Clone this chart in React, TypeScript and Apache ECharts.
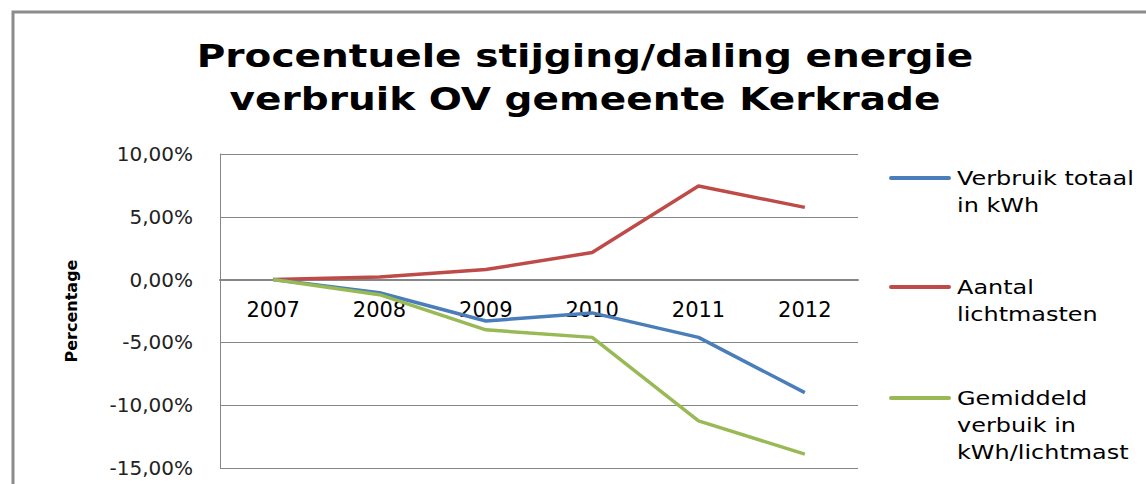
import React, { useEffect, useRef } from "react";
import * as echarts from "echarts";

const years = ["2007", "2008", "2009", "2010", "2011", "2012"];
const verbruikTotaal = [0, -1.05, -3.3, -2.65, -4.6, -9.0];
const aantalLichtmasten = [0, 0.2, 0.8, 2.15, 7.45, 5.75];
const gemiddeldVerbruik = [0, -1.2, -4.0, -4.6, -11.25, -13.9];
const seriesNames = ["Verbruik totaal\nin kWh", "Aantal\nlichtmasten", "Gemiddeld\nverbuik in\nkWh/lichtmast"];
const titleText = "Procentuele stijging/daling energie\nverbruik OV gemeente Kerkrade";
const colors = ["#4a7ebb", "#be4b48", "#98b954"];

export default function App() {
  const ref = useRef<HTMLDivElement>(null);
  useEffect(() => {
    if (!ref.current) return;
    const chart = echarts.init(ref.current, undefined, { renderer: "svg" });
    const font = "DejaVu Sans";
    const legendY = [178, 287, 398];
    const legendGraphics: any[] = [];
    seriesNames.forEach((n, i) => {
      legendGraphics.push({
        type: "line",
        shape: { x1: 891, y1: legendY[i], x2: 949, y2: legendY[i] },
        style: { stroke: colors[i], lineWidth: 4, lineCap: "round" },
      });
      legendGraphics.push({
        type: "text",
        x: 957,
        y: legendY[i] - 13.5,
        scaleX: 1.26,
        style: {
          text: n,
          fontFamily: font,
          fontSize: 19,
          lineHeight: 27,
          fill: "#000",
          verticalAlign: "top",
          align: "left",
        },
      });
    });
    chart.setOption({
      animation: false,
      backgroundColor: "#fff",
      graphic: [
        {
          type: "rect",
          shape: { x: 13, y: 12, width: 1200, height: 600 },
          style: { fill: "none", stroke: "#8c8c8c", lineWidth: 3 },
          silent: true,
        },
        {
          type: "text",
          x: 585,
          y: 34,
          scaleX: 1.22,
          style: {
            text: titleText,
            fontFamily: font,
            fontWeight: "bold",
            fontSize: 32,
            lineHeight: 43,
            fill: "#000",
            align: "center",
            verticalAlign: "top",
          },
        },
        ...legendGraphics,
      ],
      grid: { left: 220, top: 154, width: 638, height: 314, containLabel: false, outerBoundsMode: "none" },
      xAxis: {
        type: "category",
        data: years,
        boundaryGap: true,
        axisLine: { onZero: true, lineStyle: { color: "#868686", width: 2 } },
        axisTick: { show: false },
        axisLabel: { fontFamily: font, fontSize: 21, color: "#000", margin: -169 },
      },
      yAxis: {
        type: "value",
        min: -15,
        max: 10,
        interval: 5,
        name: "Percentage",
        nameLocation: "middle",
        nameGap: 141,
        nameRotate: 90,
        nameTextStyle: { fontFamily: font, fontWeight: "bold", fontSize: 16, color: "#000" },
        axisLine: { show: true, lineStyle: { color: "#868686", width: 1 } },
        axisTick: { show: false },
        axisLabel: {
          fontFamily: font,
          fontSize: 20,
          color: "#222",
          margin: 27,
          formatter: (v: number) => v.toFixed(2).replace(".", ",") + "%",
        },
        splitLine: { show: true, lineStyle: { color: "#868686", width: 1 } },
      },
      series: [
        { name: seriesNames[0], type: "line", data: verbruikTotaal, showSymbol: false, lineStyle: { color: colors[0], width: 3.5 }, itemStyle: { color: colors[0] }, z: 3 },
        { name: seriesNames[1], type: "line", data: aantalLichtmasten, showSymbol: false, lineStyle: { color: colors[1], width: 3.5 }, itemStyle: { color: colors[1] }, z: 2 },
        { name: seriesNames[2], type: "line", data: gemiddeldVerbruik, showSymbol: false, lineStyle: { color: colors[2], width: 3.5 }, itemStyle: { color: colors[2] }, z: 4 },
      ],
    });
    return () => chart.dispose();
  }, []);
  return <div ref={ref} style={{ position: "fixed", left: 0, top: 0, width: 1146, height: 484 }} />;
}
